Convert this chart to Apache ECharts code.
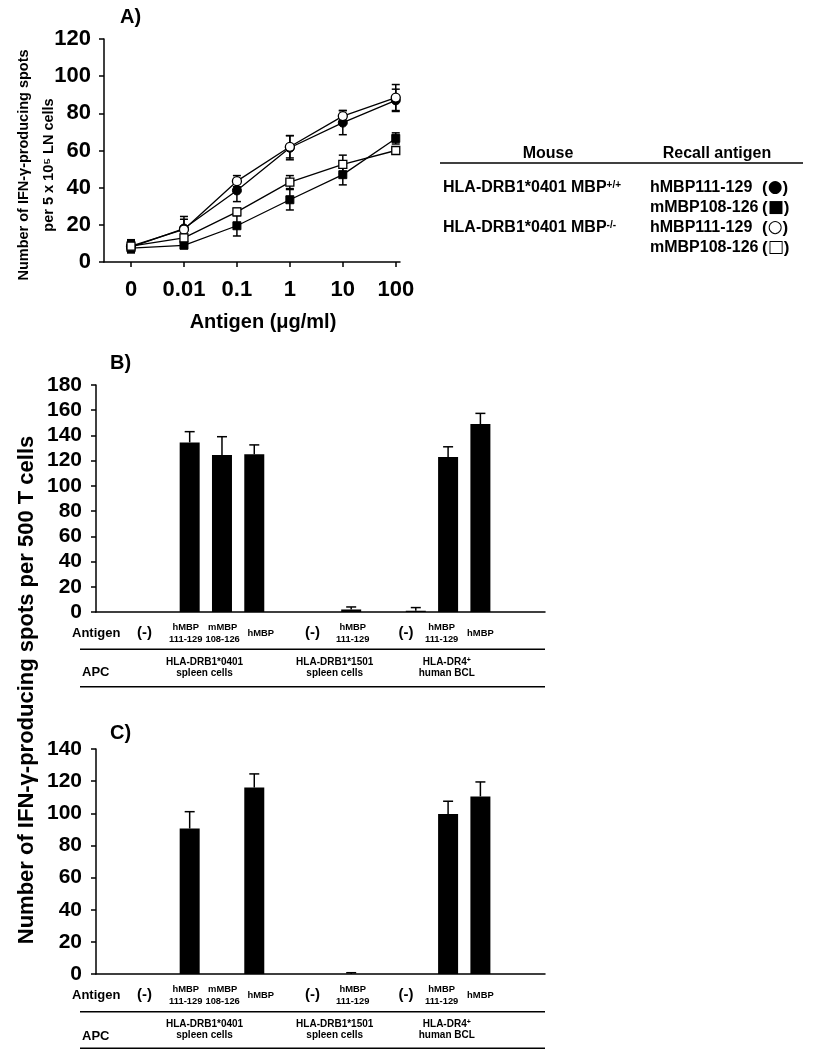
<!DOCTYPE html>
<html><head><meta charset="utf-8">
<script src="https://cdn.jsdelivr.net/npm/echarts@6/dist/echarts.min.js"></script>
<style>html,body{margin:0;padding:0;background:#fff}#c{width:824px;height:1050px}</style>
</head><body><div id="c"></div>
<script>
const FONT = '"Liberation Sans", Arial, sans-serif';

// ---------- Panel A data ----------
const doseLabels = ['0', '0.01', '0.1', '1', '10', '100'];
const wtHMBP = [8, 18, 38.5, 61.5, 75, 87];
const wtHMBPErr = [3, 5, 6, 6.5, 6.5, 6];
const wtMMBP = [7.5, 9, 19.5, 33.5, 47, 66.5];
const wtMMBPErr = [2, 1.5, 5.5, 5.5, 5.5, 3];
const koHMBP = [8.5, 17.5, 43.5, 62, 78.5, 88.5];
const koHMBPErr = [3, 7, 3, 6, 3, 7];
const koMMBP = [8.5, 13, 27, 43, 52.5, 60];
const koMMBPErr = [3.5, 2, 2, 3.5, 5, 1];

// ---------- Panels B / C data ----------
const antigenLabels = ['(-)', 'hMBP\n111-129', 'mMBP\n108-126', 'hMBP', '(-)', 'hMBP\n111-129', '(-)', 'hMBP\n111-129', 'hMBP'];
const antigenLabelPos = [-1.4, -0.12, 1.02, 2.2, 3.8, 5.05, 6.7, 7.8, 9];
const barPos = [-1, 0, 1, 2, 4, 5, 7, 8, 9];
const bValues = [0, 134.5, 124.5, 125, 0, 2, 1, 123, 149];
const bErr = [0, 8.5, 14.5, 7.5, 0, 2, 2.5, 8, 8.5];
const cValues = [0, 90.5, 0, 116, 0, 0, 0, 99.5, 110.5];
const cErr = [0, 10.5, 0, 8.5, 0, 0.8, 0, 8, 9];
const groupLabels = ['HLA-DRB1*0401\nspleen cells', 'HLA-DRB1*1501\nspleen cells', 'HLA-DR4+\nhuman BCL'];
const groupPos = [0.46, 4.49, 7.96];

const chart = echarts.init(document.getElementById('c'), null, {renderer: 'canvas'});

const black = '#000';
const axisLineStyle = {color: black, width: 1.5};

function errRender(capHalf, both) {
  return function (params, api) {
    const x = api.value(0), lo = api.value(1), hi = api.value(2);
    const p1 = api.coord([x, lo]), p2 = api.coord([x, hi]);
    const st = {stroke: black, lineWidth: 1.5};
    const ch = [
      {type: 'line', shape: {x1: p1[0], y1: p1[1], x2: p2[0], y2: p2[1]}, style: st},
      {type: 'line', shape: {x1: p2[0] - capHalf, y1: p2[1], x2: p2[0] + capHalf, y2: p2[1]}, style: st}
    ];
    if (both) ch.push({type: 'line', shape: {x1: p1[0] - capHalf, y1: p1[1], x2: p1[0] + capHalf, y2: p1[1]}, style: st});
    return {type: 'group', children: ch};
  };
}

function nearestIdx(arr, v) {
  let b = 0;
  for (let i = 1; i < arr.length; i++) if (Math.abs(arr[i] - v) < Math.abs(arr[b] - v)) b = i;
  return b;
}
function fmtAntigen(v) {
  const t = antigenLabels[nearestIdx(antigenLabelPos, v)];
  if (t === '(-)') return '{p|(-)}';
  const parts = t.split('\n');
  if (parts.length === 1) return '{s1|' + t + '}';
  return parts.map(s => '{s|' + s + '}').join('\n');
}
function fmtGroup(v) {
  const t = groupLabels[nearestIdx(groupPos, v)];
  return t.split('\n').map(s => {
    if (s.endsWith('+')) return '{g|' + s.slice(0, -1) + '}{gs|+}';
    return '{g|' + s + '}';
  }).join('\n');
}
const antigenRich = {
  p: {fontSize: 15, fontWeight: 'bold', fontFamily: FONT, color: black, lineHeight: 24},
  s: {fontSize: 9.4, fontWeight: 'bold', fontFamily: FONT, color: black, lineHeight: 12},
  s1: {fontSize: 9.4, fontWeight: 'bold', fontFamily: FONT, color: black, lineHeight: 24}
};
const groupRich = {
  g: {fontSize: 10, fontWeight: 'bold', fontFamily: FONT, color: black, lineHeight: 10.5},
  gs: {fontSize: 7, fontWeight: 'bold', fontFamily: FONT, color: black, lineHeight: 6, verticalAlign: 'top'}
};

function barXAxes(grid) {
  return [
    {
      gridIndex: grid, type: 'value', min: -2.9, max: 11, position: 'bottom',
      splitLine: {show: false}, axisTick: {show: false},
      axisLine: {onZero: false, lineStyle: axisLineStyle},
      axisLabel: {customValues: antigenLabelPos, formatter: fmtAntigen, margin: 9, rich: antigenRich}
    },
    {
      gridIndex: grid, type: 'value', min: -2.9, max: 11, position: 'bottom', offset: 40,
      splitLine: {show: false}, axisTick: {show: false},
      axisLine: {show: false, onZero: false},
      axisLabel: {customValues: groupPos, formatter: fmtGroup, margin: 5, rich: groupRich}
    }
  ];
}
function valYAxis(grid, max, fs, margin) {
  return {
    gridIndex: grid, type: 'value', min: 0, max: max, interval: 20,
    splitLine: {show: false},
    axisLine: {show: true, onZero: false, lineStyle: axisLineStyle},
    axisTick: {show: true, length: 5, lineStyle: axisLineStyle},
    axisLabel: {fontSize: fs, fontWeight: 'bold', fontFamily: FONT, color: black, margin: margin}
  };
}

const idxA = doseLabels.map((_, i) => i);
function lineData(vals) { return vals.map((v, i) => [i, v]); }
function errDataA(vals, errs) { return vals.map((v, i) => [i, v - errs[i], v + errs[i]]); }
function barErrData(vals, errs) {
  const out = [];
  vals.forEach((v, i) => { if (errs[i] > 0) out.push([barPos[i], v, v + errs[i]]); });
  return out;
}

const lineBase = {type: 'line', xAxisIndex: 0, yAxisIndex: 0, lineStyle: {color: black, width: 1.3}, z: 3, animation: false};

const txt = (x, y, text, size, extra) => ({
  type: 'text', x: x, y: y,
  style: Object.assign({text: text, fontSize: size, fontWeight: 'bold', fontFamily: FONT, fill: black, textVerticalAlign: 'middle'}, extra || {})
});
const hline = (x1, x2, y) => ({type: 'line', shape: {x1: x1, y1: y, x2: x2, y2: y}, style: {stroke: black, lineWidth: 1.5}});
const mRich = {
  m: {fontSize: 16, fontWeight: 'bold', fontFamily: FONT, fill: black},
  sup: {fontSize: 10, fontWeight: 'bold', fontFamily: FONT, fill: black, verticalAlign: 'top', lineHeight: 10}
};
const symRich = {
  p: {fontSize: 17, fontWeight: 'bold', fontFamily: FONT, fill: black},
  y: {fontSize: 17, fontFamily: '"DejaVu Sans"', fill: black}
};
const symTxt = (x, y, sym) => ({type: 'text', x: x, y: y, style: {text: '{p|(}{y|' + sym + '}{p|)}', rich: symRich, textVerticalAlign: 'middle'}});

const option = {
  animation: false,
  backgroundColor: '#fff',
  grid: [
    {left: 104, top: 39, width: 296, height: 223},
    {left: 96, top: 385, width: 449, height: 227},
    {left: 96, top: 749, width: 449, height: 225}
  ],
  xAxis: [
    {
      gridIndex: 0, type: 'value', min: -0.51, max: 5.08,
      splitLine: {show: false},
      axisLine: {onZero: false, lineStyle: axisLineStyle},
      axisTick: {show: true, customValues: idxA, length: 5, lineStyle: axisLineStyle},
      axisLabel: {customValues: idxA, formatter: v => doseLabels[Math.round(v)], fontSize: 22, fontWeight: 'bold', fontFamily: FONT, color: black, margin: 17},
      name: 'Antigen (μg/ml)', nameLocation: 'middle', nameGap: 50,
      nameTextStyle: {fontSize: 20, fontWeight: 'bold', fontFamily: FONT, color: black, padding: [0, 0, 0, 22]}
    },
    ...barXAxes(1),
    ...barXAxes(2)
  ],
  yAxis: [
    valYAxis(0, 120, 22, 13),
    valYAxis(1, 180, 21, 14),
    valYAxis(2, 140, 21, 14)
  ],
  series: [
    {type: 'custom', xAxisIndex: 0, yAxisIndex: 0, renderItem: errRender(4, true), data: errDataA(wtHMBP, wtHMBPErr), encode: {x: 0, y: [1, 2]}, z: 2},
    {type: 'custom', xAxisIndex: 0, yAxisIndex: 0, renderItem: errRender(4, true), data: errDataA(wtMMBP, wtMMBPErr), encode: {x: 0, y: [1, 2]}, z: 2},
    {type: 'custom', xAxisIndex: 0, yAxisIndex: 0, renderItem: errRender(4, true), data: errDataA(koHMBP, koHMBPErr), encode: {x: 0, y: [1, 2]}, z: 2},
    {type: 'custom', xAxisIndex: 0, yAxisIndex: 0, renderItem: errRender(4, true), data: errDataA(koMMBP, koMMBPErr), encode: {x: 0, y: [1, 2]}, z: 2},
    Object.assign({}, lineBase, {name: 'MBP+/+ hMBP111-129', data: lineData(wtHMBP), symbol: 'circle', symbolSize: 9, itemStyle: {color: black, borderColor: black}}),
    Object.assign({}, lineBase, {name: 'MBP+/+ mMBP108-126', data: lineData(wtMMBP), symbol: 'rect', symbolSize: 8, itemStyle: {color: black, borderColor: black}}),
    Object.assign({}, lineBase, {name: 'MBP-/- hMBP111-129', data: lineData(koHMBP), symbol: 'circle', symbolSize: 9, z: 4, itemStyle: {color: '#fff', borderColor: black, borderWidth: 1.3}}),
    Object.assign({}, lineBase, {name: 'MBP-/- mMBP108-126', data: lineData(koMMBP), symbol: 'rect', symbolSize: 8, z: 4, itemStyle: {color: '#fff', borderColor: black, borderWidth: 1.3}}),
    {type: 'bar', xAxisIndex: 1, yAxisIndex: 1, barWidth: 20, data: barPos.map((p, i) => [p, bValues[i]]), itemStyle: {color: black}, z: 2},
    {type: 'custom', xAxisIndex: 1, yAxisIndex: 1, renderItem: errRender(5, false), data: barErrData(bValues, bErr), encode: {x: 0, y: [1, 2]}, z: 3},
    {type: 'bar', xAxisIndex: 3, yAxisIndex: 2, barWidth: 20, data: barPos.map((p, i) => [p, cValues[i]]), itemStyle: {color: black}, z: 2},
    {type: 'custom', xAxisIndex: 3, yAxisIndex: 2, renderItem: errRender(5, false), data: barErrData(cValues, cErr), encode: {x: 0, y: [1, 2]}, z: 3}
  ],
  graphic: [
    txt(120, 17, 'A)', 20),
    txt(110, 363, 'B)', 20),
    txt(110, 733, 'C)', 20),
    {type: 'text', x: 36, y: 165, rotation: Math.PI / 2,
      style: {text: 'Number of IFN-γ-producing spots\nper 5 x 10⁵ LN cells', fontSize: 14.5, fontWeight: 'bold', fontFamily: FONT, fill: black, textAlign: 'center', textVerticalAlign: 'middle', lineHeight: 25}},
    {type: 'text', x: 27, y: 690, rotation: Math.PI / 2,
      style: {text: 'Number of IFN-γ-producing spots per 500 T cells', fontSize: 22, fontWeight: 'bold', fontFamily: FONT, fill: black, textAlign: 'center', textVerticalAlign: 'middle'}},
    txt(548, 154, 'Mouse', 16, {textAlign: 'center'}),
    txt(717, 154, 'Recall antigen', 16, {textAlign: 'center'}),
    hline(440, 803, 163),
    {type: 'text', x: 443, y: 188, style: {text: '{m|HLA-DRB1*0401 MBP}{sup|+/+}', rich: mRich, textVerticalAlign: 'middle'}},
    {type: 'text', x: 443, y: 228, style: {text: '{m|HLA-DRB1*0401 MBP}{sup|-/-}', rich: mRich, textVerticalAlign: 'middle'}},
    txt(650, 188, 'hMBP111-129', 16),
    txt(650, 208, 'mMBP108-126', 16),
    txt(650, 228, 'hMBP111-129', 16),
    txt(650, 248, 'mMBP108-126', 16),
    symTxt(762, 188, '●'),
    symTxt(762, 208, '■'),
    symTxt(762, 228, '○'),
    symTxt(762, 248, '□'),
    txt(72, 633, 'Antigen', 13),
    hline(80, 545, 649.3),
    txt(82, 672, 'APC', 13),
    hline(80, 545, 686.7),
    txt(72, 995, 'Antigen', 13),
    hline(80, 545, 1011.7),
    txt(82, 1036, 'APC', 13),
    hline(80, 545, 1048.3)
  ]
};
chart.setOption(option);
</script>
</body></html>
